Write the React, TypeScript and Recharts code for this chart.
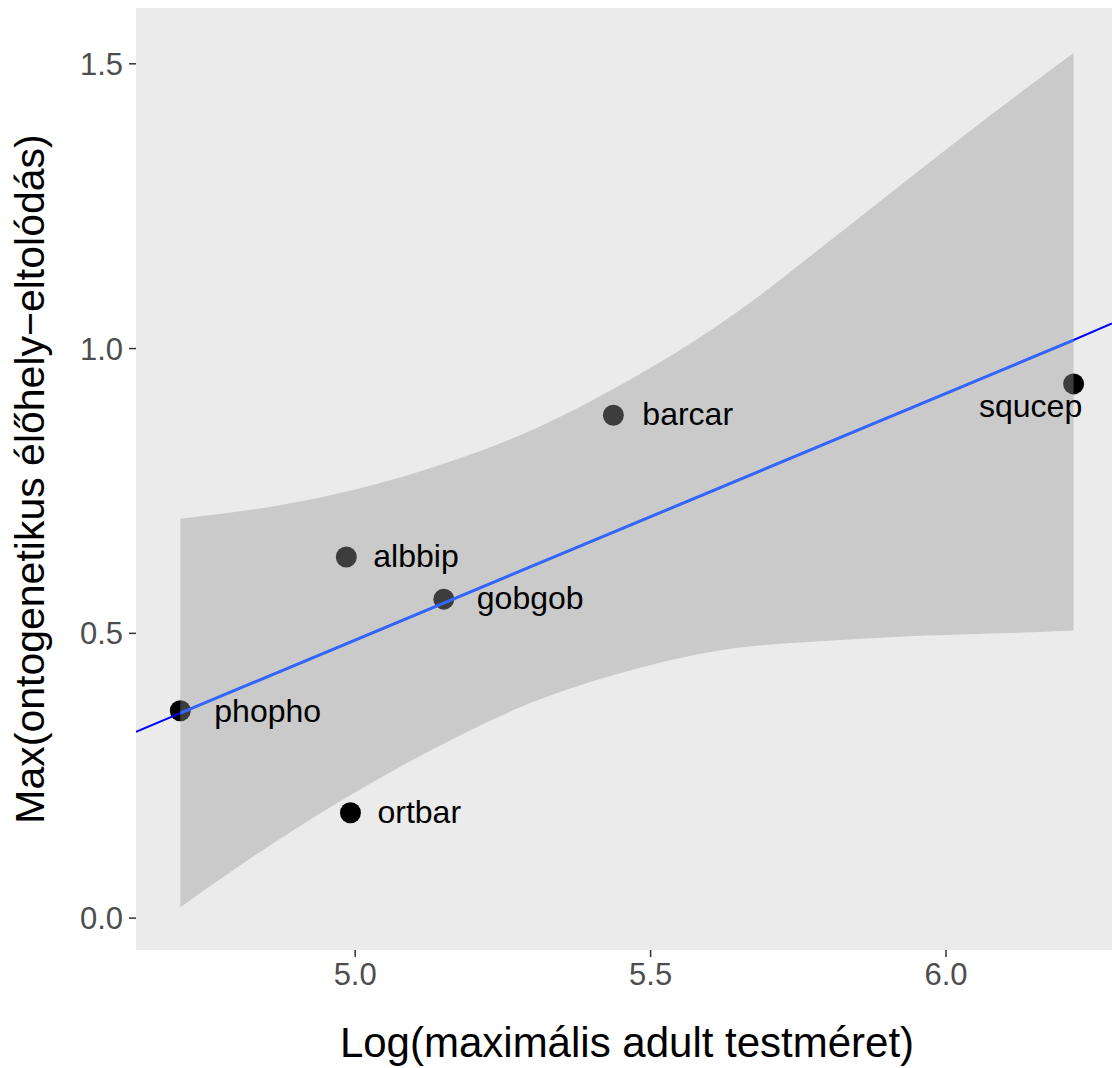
import React from "react";
import {
  ComposedChart,
  XAxis,
  YAxis,
  Scatter,
  Area,
  Line,
  CartesianGrid,
} from "recharts";

// species and their values
const speciesNames = ["phopho", "ortbar", "albbip", "gobgob", "barcar", "squcep"];
const logMaxSize = [4.704, 4.992, 4.985, 5.15, 5.437, 6.216];
const maxShift = [0.364, 0.185, 0.634, 0.56, 0.883, 0.938];

// confidence band
const bandX = [4.704, 4.856, 5.025, 5.195, 5.364, 5.584, 5.753, 5.922, 6.091, 6.216];
const bandLow = [0.019, 0.128, 0.236, 0.33, 0.403, 0.464, 0.484, 0.494, 0.5, 0.505];
const bandHigh = [0.701, 0.722, 0.759, 0.814, 0.889, 1.02, 1.148, 1.286, 1.422, 1.519];

// fitted line, full range and band range
const fitX = [4.629, 4.704, 6.216, 6.281];
const fitY = [0.327, 0.36, 1.015, 1.044];

const xTicks = [5.0, 5.5, 6.0];
const yTicks = [0.0, 0.5, 1.0, 1.5];

const points = speciesNames.map((name, i) => ({ name, x: logMaxSize[i], y: maxShift[i] }));
const band = bandX.map((x, i) => ({ x, band: [bandLow[i], bandHigh[i]] }));
const fitFull = fitX.map((x, i) => ({ x, fit: fitY[i] }));
const fitInner = fitFull.slice(1, 3);

const FONT = '"Liberation Sans", Arial, Helvetica, sans-serif';

const labelOffsets: Record<string, { dx: number; dy: number; anchor: string }> = {
  phopho: { dx: 34, dy: 11, anchor: "start" },
  ortbar: { dx: 27, dy: 10, anchor: "start" },
  albbip: { dx: 27, dy: 10, anchor: "start" },
  gobgob: { dx: 33, dy: 10, anchor: "start" },
  barcar: { dx: 29, dy: 10, anchor: "start" },
  squcep: { dx: -43, dy: 33, anchor: "middle" },
};

const Dot = (p: any) => <circle cx={p.cx} cy={p.cy} r={10.5} fill="#000" />;

const NameLabel = (p: any) => {
  const o = labelOffsets[p.payload.name] || { dx: 28, dy: 10, anchor: "start" };
  return (
    <text
      x={p.cx + o.dx}
      y={p.cy + o.dy}
      textAnchor={o.anchor}
      fontSize={32}
      fontFamily={FONT}
      fill="#000"
    >
      {p.payload.name}
    </text>
  );
};

const XTitle = (props: any) => {
  const vb = props.viewBox || { x: 136, y: 950, width: 976, height: 118 };
  return (
    <text
      x={vb.x + vb.width / 2 + 3}
      y={vb.y + 107}
      textAnchor="middle"
      fontSize={42}
      fontFamily={FONT}
      fill="#000"
    >
      Log(maximális adult testméret)
    </text>
  );
};

const YTitle = (props: any) => {
  const vb = props.viewBox || { x: 0, y: 8, width: 136, height: 942 };
  const cy = vb.y + vb.height / 2;
  return (
    <text
      transform={`translate(44,${cy}) rotate(-90)`}
      textAnchor="middle"
      fontSize={41}
      fontFamily={FONT}
      fill="#000"
    >
      Max(ontogenetikus élőhely−eltolódás)
    </text>
  );
};

const tickStyle = { fill: "#4d4d4d", fontSize: 31, fontFamily: FONT };

export default function App() {
  return (
    <div style={{ position: "absolute", left: 0, top: 0, width: 1112, height: 1068, background: "#fff" }}>
      <ComposedChart
        width={1112}
        height={1068}
        margin={{ top: 8, right: 0, bottom: 0, left: 0 }}
      >
        <CartesianGrid horizontal={false} vertical={false} fill="#ebebeb" stroke="none" />
        <XAxis
          type="number"
          dataKey="x"
          domain={[4.629, 6.281]}
          allowDataOverflow
          ticks={xTicks}
          tickFormatter={(v: number) => v.toFixed(1)}
          height={118}
          axisLine={false}
          tickLine={{ stroke: "#333", strokeWidth: 1.5 }}
          tickSize={7}
          tickMargin={6}
          tick={tickStyle}
          label={<XTitle />}
        />
        <YAxis
          type="number"
          dataKey="y"
          domain={[-0.056, 1.598]}
          allowDataOverflow
          ticks={yTicks}
          tickFormatter={(v: number) => v.toFixed(1)}
          width={136}
          axisLine={false}
          tickLine={{ stroke: "#333", strokeWidth: 1.5 }}
          tickSize={7}
          tickMargin={6}
          tick={tickStyle}
          label={<YTitle />}
        />
        <Scatter
          data={points}
          dataKey="y"
          shape={Dot}
          isAnimationActive={false}
          zIndex={50}
        />
        <Line
          data={fitFull}
          dataKey="fit"
          type="linear"
          stroke="#0000ff"
          strokeWidth={2}
          dot={false}
          activeDot={false}
          isAnimationActive={false}
          zIndex={60}
        />
        <Area
          data={band}
          dataKey="band"
          type="natural"
          stroke="none"
          fill="#999999"
          fillOpacity={0.4}
          dot={false}
          activeDot={false}
          isAnimationActive={false}
          zIndex={100}
        />
        <Line
          data={fitInner}
          dataKey="fit"
          type="linear"
          stroke="#3366ff"
          strokeWidth={3}
          dot={false}
          activeDot={false}
          isAnimationActive={false}
          zIndex={400}
        />
        <Scatter
          data={points}
          dataKey="y"
          shape={NameLabel}
          isAnimationActive={false}
          zIndex={600}
        />
      </ComposedChart>
    </div>
  );
}
